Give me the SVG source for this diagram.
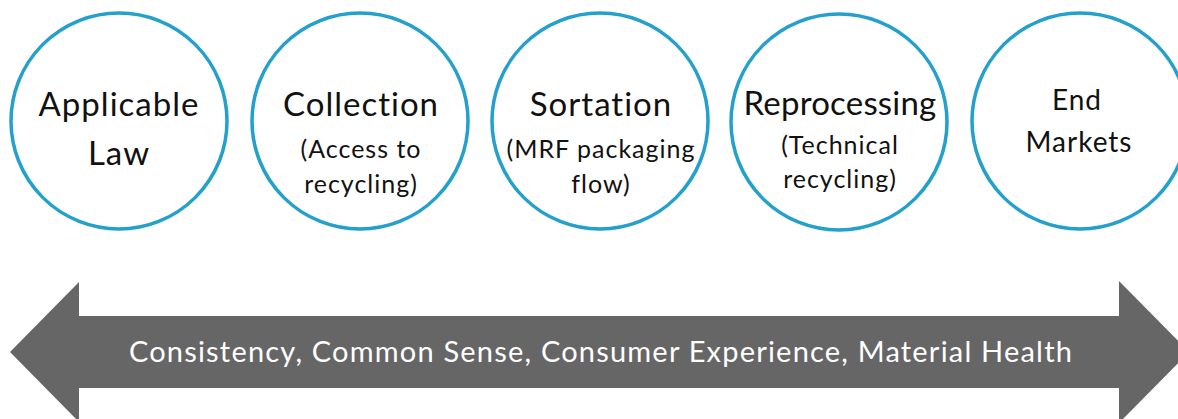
<svg xmlns="http://www.w3.org/2000/svg" width="1178" height="419" viewBox="0 0 1178 419">
<style>
.c{fill:#fff;stroke:#23a0cb;stroke-width:3.5}
.t{font-family:Lato,"Open Sans","Liberation Sans",sans-serif;fill:#111;text-anchor:middle}
.h{font-size:33px;letter-spacing:1px}
.s{font-size:25px;letter-spacing:1px}
.e{font-size:28px;letter-spacing:1px}
.b{font-family:Lato,"Open Sans","Liberation Sans",sans-serif;fill:#fff;text-anchor:middle;font-size:29px;letter-spacing:1.2px}
</style>
<rect width="1178" height="419" fill="#fff"/>
<g id="connectors">
<polygon id="arrow" points="10,352 79,282 79,316 1119,316 1119,281 1189,352 1119,423 1119,388 79,388 79,422" fill="#666"/>
<text class="b" x="601" y="362">Consistency, Common Sense, Consumer Experience, Material Health</text>
</g>
<g id="n1">
<circle class="c" cx="119" cy="121" r="108"/>
<text class="t h" x="119" y="116">Applicable</text>
<text class="t h" x="119" y="165">Law</text>
</g>
<g id="n2">
<circle class="c" cx="360" cy="121" r="108"/>
<text class="t h" x="361" y="116">Collection</text>
<text class="t s" x="361" y="158">(Access to</text>
<text class="t s" x="361" y="193">recycling)</text>
</g>
<g id="n3">
<circle class="c" cx="600" cy="121" r="108"/>
<text class="t h" x="601" y="116">Sortation</text>
<text class="t s" x="601" y="158">(MRF packaging</text>
<text class="t s" x="601" y="193">flow)</text>
</g>
<g id="n4">
<circle class="c" cx="839" cy="122" r="108"/>
<text class="t h" x="840" y="115" style="letter-spacing:0.2px">Reprocessing</text>
<text class="t s" x="840" y="154">(Technical</text>
<text class="t s" x="840" y="188">recycling)</text>
</g>
<g id="n5">
<circle class="c" cx="1080" cy="121" r="108"/>
<text class="t e" x="1077" y="110">End</text>
<text class="t e" x="1079" y="152">Markets</text>
</g>
</svg>
